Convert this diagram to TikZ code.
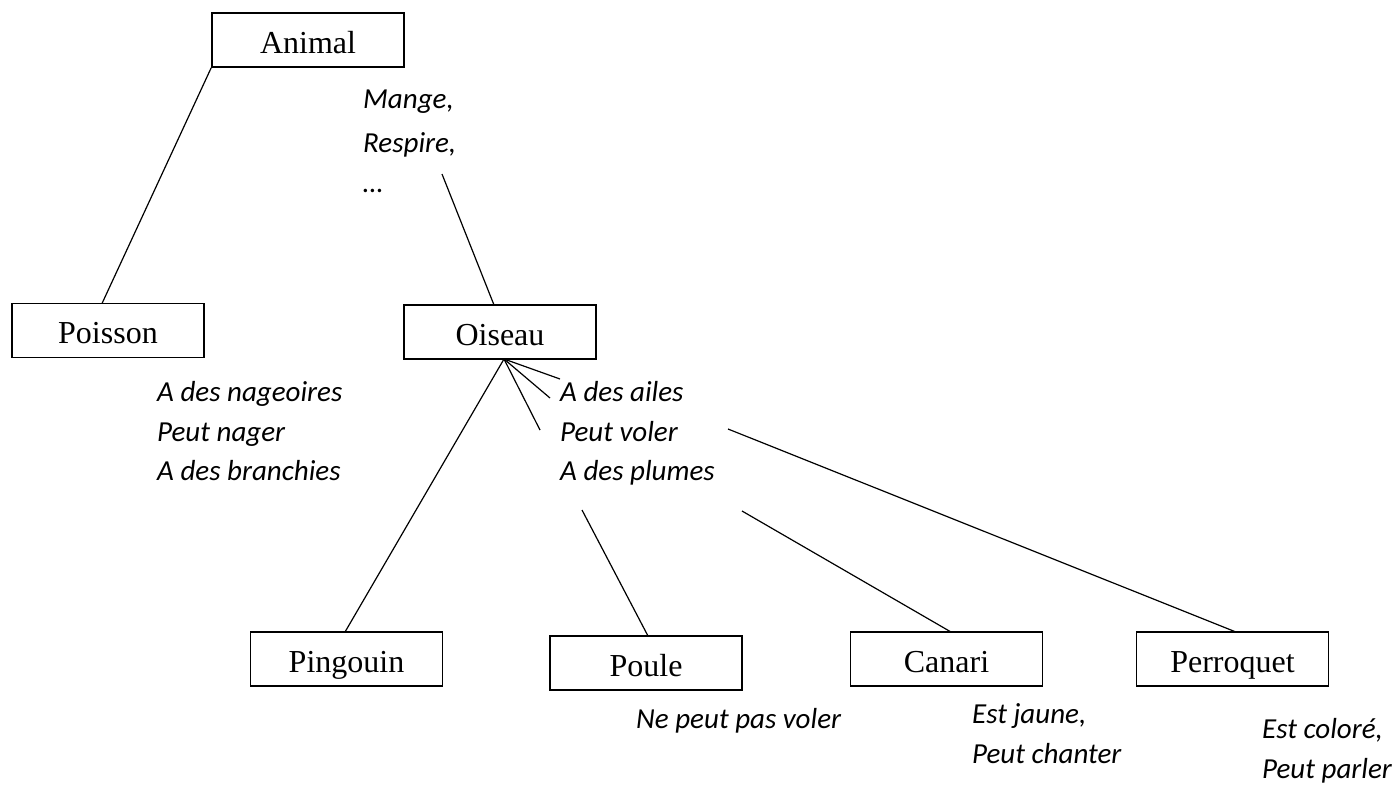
\documentclass[tikz,border=0pt]{standalone}
\usepackage{fontspec}
\setmainfont{Liberation Serif}
\newfontfamily\notefont{Carlito}
\begin{document}
\begin{tikzpicture}[x=1pt,y=-1pt,
  box/.style={draw,line width=1.6pt,minimum width=192pt,minimum height=54pt,inner sep=0pt,
    text height=26pt,text depth=0pt,font=\fontsize{32}{36}\selectfont},
  note/.style={anchor=base west,inner sep=0pt,font=\notefont\itshape\fontsize{29}{34}\selectfont},
  link/.style={line width=1.2pt}]
\path[use as bounding box] (0,0) rectangle (1400,785);
% boxes
\node[box] (animal) at (308,40) {Animal};
\node[box] (poisson) at (108,330.5) {Poisson};
\node[box] (oiseau) at (500,332) {Oiseau};
\node[box] (pingouin) at (346.5,659) {Pingouin};
\node[box] (poule) at (646,663) {Poule};
\node[box] (canari) at (946.5,659) {Canari};
\node[box] (perroquet) at (1232.5,659) {Perroquet};
% notes
\node[note] (n1) at (363,108) {Mange,};
\node[note] (n2) at (363,152) {Respire,};
\node[note] (n3) at (363,192) {\dots};
\node[note] (p1) at (157,401) {A des nageoires};
\node[note] (p2) at (157,441) {Peut nager};
\node[note] (p3) at (157,480) {A des branchies};
\node[note] (o1) at (560,401) {A des ailes};
\node[note] (o2) at (560,441) {Peut voler};
\node[note] (o3) at (560,480) {A des plumes};
\node[note] (pl1) at (636,728) {Ne peut pas voler};
\node[note] (c1) at (972,723) {Est jaune,};
\node[note] (c2) at (972,763) {Peut chanter};
\node[note] (r1) at (1262,738) {Est coloré,};
\node[note] (r2) at (1262,778) {Peut parler};
% free ends
\coordinate (fa) at (442,174);
\coordinate (fan) at (504,359);
\coordinate (e1) at (560,379);
\coordinate (e2) at (550,398);
\coordinate (e3) at (540,430);
\coordinate (fp) at (582,510);
\coordinate (fc) at (742,511);
\coordinate (fr) at (728,429);
% connectors
\draw[link] (animal.south west) -- (102,303.5);
\draw[link] (fa) -- (494,305);
\draw[link] (fan) -- (e1);
\draw[link] (fan) -- (e2);
\draw[link] (fan) -- (e3);
\draw[link] (fan) -- (345,632);
\draw[link] (fp) -- (648,636);
\draw[link] (fc) -- (951,632);
\draw[link] (fr) -- (1236,632);
\end{tikzpicture}
\end{document}
